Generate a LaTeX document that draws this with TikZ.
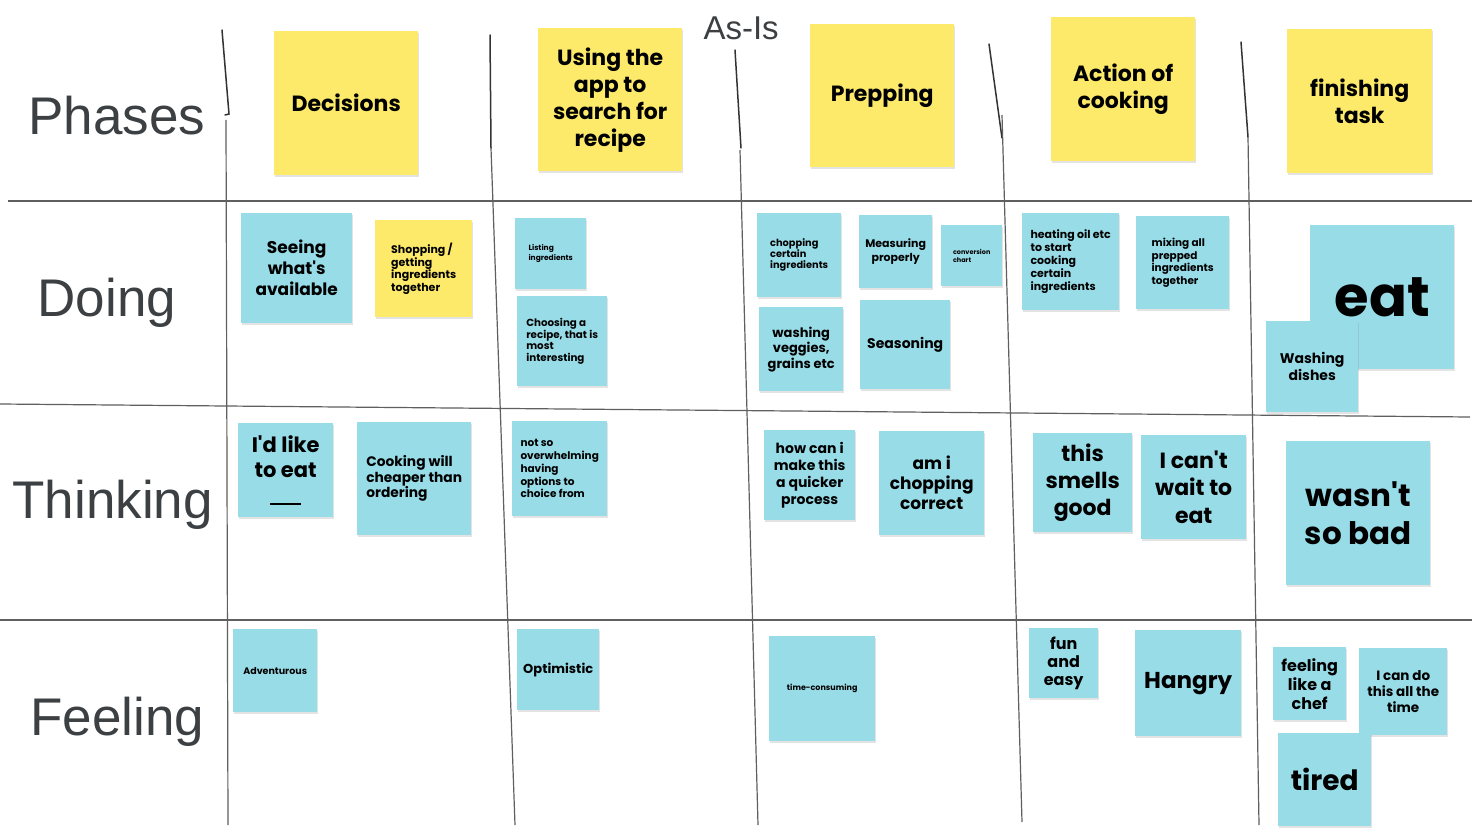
\documentclass[tikz,border=0pt]{standalone}
\usepackage{fontspec}
\usetikzlibrary{shadows}
\setmainfont{Liberation Sans}
\newfontfamily\notefont{Poppins}
\newcommand\nfs[2]{\notefont\bfseries\fontsize{#1}{#2}\selectfont}
\definecolor{stickyyellow}{RGB}{253,233,106}
\definecolor{stickyblue}{RGB}{152,220,232}
\definecolor{rowgray}{RGB}{60,64,67}
\definecolor{gridgray}{RGB}{95,95,95}

\begin{document}
\begin{tikzpicture}[x=1pt, y=-1pt,
  note/.style={anchor=north west, inner sep=1pt, align=center,
    drop shadow={shadow xshift=0.6pt, shadow yshift=-1.6pt, opacity=0.22}},
  yellow note/.style={note, fill=stickyyellow},
  blue note/.style={note, fill=stickyblue},
  row label/.style={anchor=base west, text=rowgray, font=\fontsize{53}{60}\selectfont},
  grid line/.style={draw=gridgray, line width=1.2pt},
  cut line/.style={draw=black!80, line width=1.5pt, line cap=round}]
      \useasboundingbox[fill=white] (0,0) rectangle (1481,832);
      \draw [grid line] (8,201) -- (1472,201);
      \draw [grid line] (0,404) -- (1470,417);
      \draw [grid line] (0,620) -- (1472,620);
      \draw [cut line] (222,30) -- (229,114) -- (225,115);
      \draw [cut line] (490,35) -- (491,148);
      \draw [cut line] (735,50) -- (741,148);
      \draw [cut line] (989,44) -- (1002,138);
      \draw [cut line] (1241,42) -- (1248,137);
      \draw [grid line] (226,120) -- (228,825);
      \draw [grid line] (491,148) -- (515,825);
      \draw [grid line] (740,150) -- (758,825);
      \draw [grid line] (1002,115) -- (1022,822);
      \draw [grid line] (1248,137) -- (1259,825);
      \node (asis) [row label, font=\fontsize{33}{36}\selectfont] at (700,40) {As-Is};
      \node (phases) [row label] at (25,135) {Phases};
      \node (doing) [row label] at (34,316) {Doing};
      \node (thinking) [row label] at (9,518) {Thinking};
      \node (feeling) [row label] at (27,735) {Feeling};
      \node (dec) [yellow note, minimum width=144, minimum height=144, font=\nfs{22}{27}] at (274,31) {Decisions};
      \node (app) [yellow note, minimum width=144, minimum height=143, font=\nfs{22}{27}] at (538,28) {Using the\\app to\\search for\\recipe};
      \node (prep) [yellow note, minimum width=144, minimum height=143, font=\nfs{22}{27}] at (810,24) {Prepping};
      \node (act) [yellow note, minimum width=144, minimum height=144, font=\nfs{22}{27}] at (1051,17) {Action of\\cooking};
      \node (fin) [yellow note, minimum width=145, minimum height=144, font=\nfs{22}{27}] at (1287,29) {finishing\\task};
      \node (seeing) [blue note, minimum width=111, minimum height=110, font=\nfs{17}{21}] at (241,213) {Seeing\\what's\\available};
      \node (shop) [yellow note, minimum width=97, minimum height=97, align=left, font=\nfs{11}{12.8}] at (375,220) {Shopping /\\getting\\ingredients\\together};
      \node (list) [blue note, minimum width=71, minimum height=71, align=left, font=\nfs{7.5}{10}] at (515,218) {Listing\\ingredients};
      \node (choose) [blue note, minimum width=90, minimum height=90, align=left, font=\nfs{10.3}{11.8}] at (517,296) {Choosing a\\recipe, that is\\most\\interesting};
      \node (chop) [blue note, minimum width=84, minimum height=84, align=left, font=\nfs{9.8}{11}] at (757,213) {chopping\\certain\\ingredients};
      \node (measure) [blue note, minimum width=73, minimum height=73, font=\nfs{11}{14}] at (859,215) {Measuring\\properly};
      \node (conv) [blue note, minimum width=61, minimum height=61, align=left, font=\nfs{6.5}{8}] at (941,225) {conversion\\chart};
      \node (wash) [blue note, minimum width=84, minimum height=84, font=\nfs{13}{15.5}] at (759,307) {washing\\veggies,\\grains etc};
      \node (season) [blue note, minimum width=90, minimum height=89, font=\nfs{14}{17}] at (860,300) {Seasoning};
      \node (heat) [blue note, minimum width=97, minimum height=97, align=left, font=\nfs{11}{13}] at (1022,213) {heating oil etc\\to start\\cooking\\certain\\ingredients};
      \node (mix) [blue note, minimum width=93, minimum height=93, align=left, font=\nfs{10.5}{12.5}] at (1136,216) {mixing all\\prepped\\ingredients\\together};
      \node (eat) [blue note, minimum width=144, minimum height=144, font=\nfs{56}{60}] at (1310,225) {eat};
      \node (dishes) [blue note, minimum width=92, minimum height=91, font=\nfs{14}{17}] at (1266,321) {Washing\\dishes};
      \node (like) [blue note, minimum width=95, minimum height=94, font=\nfs{21}{25}] at (238,423) {I'd like\\to eat\\[2pt]\rule{31pt}{2pt}};
      \node (cheap) [blue note, minimum width=114, minimum height=113, align=left, font=\nfs{13.8}{15.5}] at (357,422) {Cooking will\\cheaper than\\ordering};
      \node (overwhelm) [blue note, minimum width=95, minimum height=95, align=left, font=\nfs{10.5}{12.7}] at (512,421) {not so\\overwhelming\\having\\options to\\choice from};
      \node (quicker) [blue note, minimum width=91, minimum height=90, font=\nfs{14}{17}] at (764,430) {how can i\\make this\\a quicker\\process};
      \node (correct) [blue note, minimum width=105, minimum height=104, font=\nfs{17}{20}] at (879,431) {am i\\chopping\\correct};
      \node (smells) [blue note, minimum width=99, minimum height=99, font=\nfs{22}{27}] at (1033,433) {this\\smells\\good};
      \node (wait) [blue note, minimum width=105, minimum height=104, font=\nfs{22}{27.5}] at (1141,435) {I can't\\wait to\\eat};
      \node (bad) [blue note, minimum width=144, minimum height=144, font=\nfs{31}{38}] at (1286,441) {wasn't\\so bad};
      \node (adv) [blue note, minimum width=84, minimum height=83, font=\nfs{9.5}{11}] at (233,629) {Adventurous};
      \node (opt) [blue note, minimum width=82, minimum height=81, font=\nfs{13}{15}] at (517,629) {Optimistic};
      \node (timecons) [blue note, minimum width=106, minimum height=105, font=\nfs{8}{10}] at (769,636) {time-consuming};
      \node (fun) [blue note, minimum width=69, minimum height=70, font=\nfs{16}{18}] at (1029,628) {fun\\and\\easy};
      \node (hangry) [blue note, minimum width=106, minimum height=106, font=\nfs{23}{27}] at (1135,630) {Hangry};
      \node (chef) [blue note, minimum width=73, minimum height=73, font=\nfs{16}{19}] at (1273,647) {feeling\\like a\\chef};
      \node (cando) [blue note, minimum width=88, minimum height=87, font=\nfs{13.5}{16}] at (1359,648) {I can do\\this all the\\time};
      \node (tired) [blue note, minimum width=93, minimum height=93, font=\nfs{28}{32}] at (1278,733) {tired};
\end{tikzpicture}
\end{document}
